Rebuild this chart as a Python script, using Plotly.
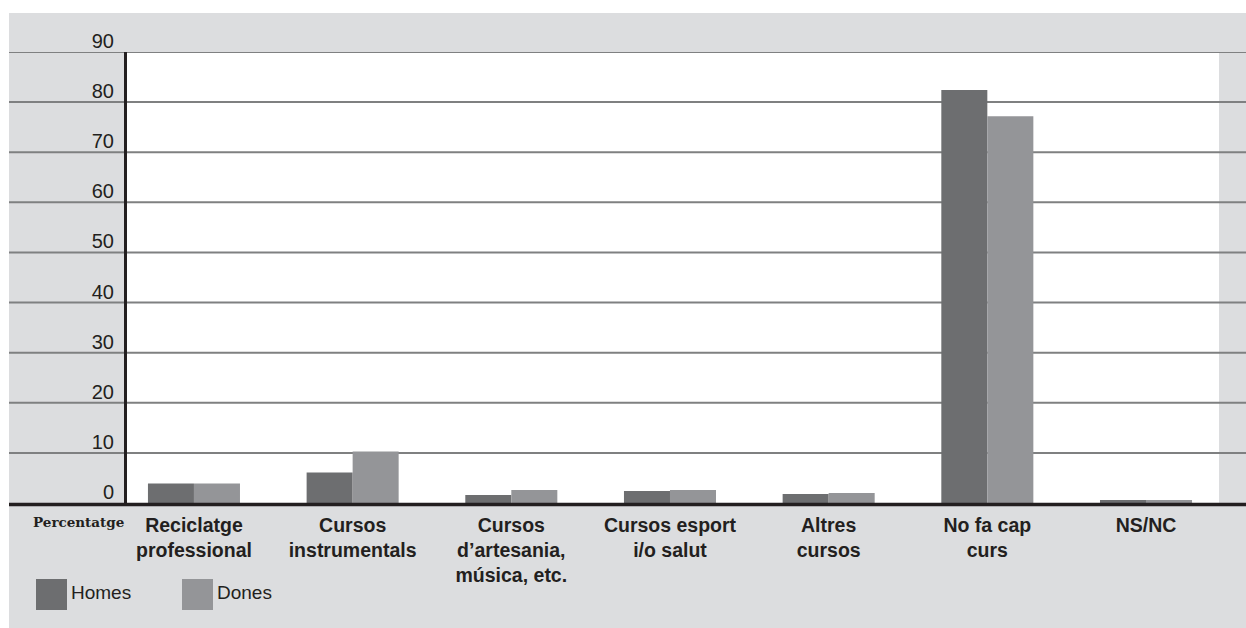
import plotly.graph_objects as go

W, H = 1246, 628

categories = [
    "Reciclatge<br>professional",
    "Cursos<br>instrumentals",
    "Cursos<br>d’artesania,<br>música, etc.",
    "Cursos esport<br>i/o salut",
    "Altres<br>cursos",
    "No fa cap<br>curs",
    "NS/NC",
]
homes = [3.9, 6.1, 1.6, 2.4, 1.8, 82.4, 0.6]
dones = [3.9, 10.3, 2.6, 2.6, 2.0, 77.2, 0.6]
y_ticks = [0, 10, 20, 30, 40, 50, 60, 70, 80, 90]

DARK = "#6d6e70"
LIGHT = "#949598"
BG = "#dcdddf"
INK = "#231f20"
GRID = "#7f8081"

L, R, T, B = 127, 1219, 52, 503  # plot area in screen pixels


def px_x(p):
    return (p - L) / (R - L)


def px_y(p):
    return (B - p) / (B - T)


fig = go.Figure()
fig.add_trace(go.Bar(x=categories, y=homes, name="Homes", marker=dict(color=DARK, line=dict(width=0))))
fig.add_trace(go.Bar(x=categories, y=dones, name="Dones", marker=dict(color=LIGHT, line=dict(width=0))))

shapes = [
    dict(type="rect", xref="paper", yref="paper", x0=px_x(9), x1=px_x(W + 20), y0=px_y(13), y1=px_y(H + 20),
         fillcolor=BG, line=dict(width=0), layer="below"),
    dict(type="rect", xref="paper", yref="paper", x0=0, x1=1, y0=0, y1=1,
         fillcolor="white", line=dict(width=0), layer="below"),
]
for v in y_ticks[1:]:
    shapes.append(dict(type="line", xref="paper", yref="y", x0=px_x(9), x1=px_x(W + 20), y0=v, y1=v,
                       line=dict(color=GRID, width=2), layer="below"))
# thick baseline
shapes.append(dict(type="line", xref="paper", yref="paper", x0=px_x(9), x1=px_x(W + 20),
                   y0=px_y(504.5), y1=px_y(504.5), line=dict(color=INK, width=3.5), layer="above"))
# legend squares
shapes.append(dict(type="rect", xref="paper", yref="paper", x0=px_x(36), x1=px_x(67), y0=px_y(579), y1=px_y(610),
                   fillcolor=DARK, line=dict(width=0)))
shapes.append(dict(type="rect", xref="paper", yref="paper", x0=px_x(182), x1=px_x(213), y0=px_y(579), y1=px_y(610),
                   fillcolor=LIGHT, line=dict(width=0)))

annotations = [
    dict(text="Percentatge", xref="paper", yref="paper", x=px_x(126), y=px_y(522), xanchor="right", yanchor="middle",
         showarrow=False, font=dict(family="DejaVu Serif", size=13.5, color=INK, weight="bold")),
    dict(text="Homes", xref="paper", yref="paper", x=px_x(69), y=px_y(592), xanchor="left", yanchor="middle",
         showarrow=False, font=dict(family="Liberation Sans", size=19, color=INK)),
    dict(text="Dones", xref="paper", yref="paper", x=px_x(215), y=px_y(592), xanchor="left", yanchor="middle",
         showarrow=False, font=dict(family="Liberation Sans", size=19, color=INK)),
]

fig.update_layout(
    width=W,
    height=H,
    margin=dict(l=L, r=W - R, t=T, b=H - B, pad=0),
    paper_bgcolor="white",
    plot_bgcolor="rgba(0,0,0,0)",
    barmode="group",
    bargap=0.42,
    bargroupgap=0,
    showlegend=False,
    shapes=shapes,
    annotations=annotations,
    xaxis=dict(
        type="category",
        range=[-0.422, 6.46],
        showgrid=False,
        zeroline=False,
        showline=False,
        ticks="",
        ticklabelstandoff=8,
        tickfont=dict(family="Liberation Sans", size=19.5, color=INK, weight="bold"),
    ),
    yaxis=dict(
        range=[0, 90],
        tickvals=y_ticks,
        showgrid=False,
        zeroline=False,
        showline=True,
        linecolor=INK,
        linewidth=3,
        ticks="",
        ticklabelstandoff=6,
        ticklabelshift=-11,
        tickfont=dict(family="Liberation Sans", size=20, color=INK),
    ),
)

# drop the default body margin so the figure fills the window
fig.write_html(
    "out.html",
    config={"displayModeBar": False},
    post_script="document.body.style.margin='0';",
)
